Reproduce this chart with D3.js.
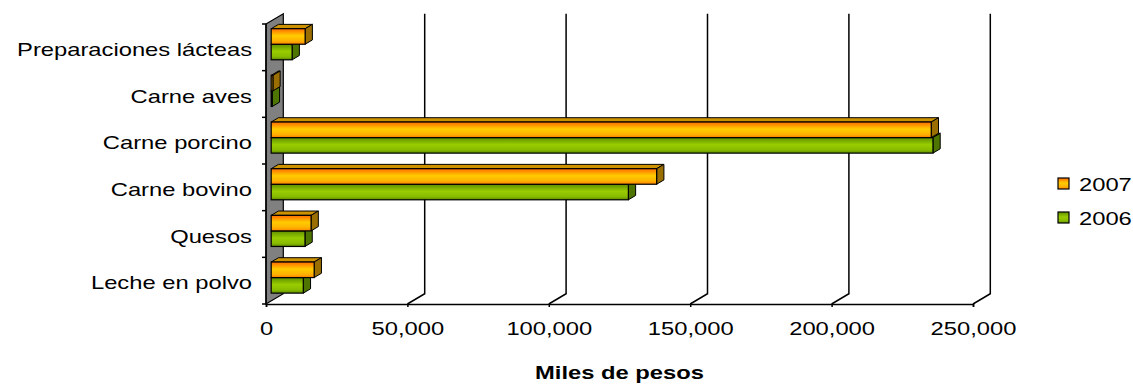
<!DOCTYPE html>
<html>
<head>
<meta charset="utf-8">
<script src="https://cdn.jsdelivr.net/npm/d3@7"></script>
<style>
  html, body { margin: 0; padding: 0; background: #fff; }
  svg { display: block; }
  text { font-family: "Liberation Sans", Arial, sans-serif; fill: #000; }
</style>
</head>
<body>
<svg id="chart" width="1133" height="384"></svg>
<script>
const categories = ["Preparaciones lácteas", "Carne aves", "Carne porcino", "Carne bovino", "Quesos", "Leche en polvo"];
const seriesNames = ["2007", "2006"];
const values2007 = [12000, 600, 233400, 136300, 14100, 15200];
const values2006 = [7400, 400, 234000, 126300, 11950, 11350];
const xTicks = [0, 50000, 100000, 150000, 200000, 250000];
const axisTitle = "Miles de pesos";

const svg = d3.select("#chart");
const defs = svg.append("defs");

const x = d3.scaleLinear().domain([0, 250000]).range([266, 973]);
const y = d3.scaleBand().domain(categories).range([24, 304]).paddingInner(0).paddingOuter(0);
const ys = d3.scaleBand().domain(seriesNames).range([0, y.bandwidth()]).paddingInner(0).paddingOuter(0.5);

const DX = 17.3, DY = -10.3;     // full depth offset
const Z0 = 0.3, Z1 = 0.72;        // bar depth range
const SX = 1.25;                  // horizontal text stretch
const P = (v, yy, z) => [x(v) + z * DX, yy + z * DY];

const styles = {
  "2007": { stops: [["0%", "#FF6A00"], ["45%", "#FFCC00"], ["80%", "#FFB000"], ["100%", "#FF7F00"]], top: "#CC9200", side: "#9A6E00" },
  "2006": { stops: [["0%", "#5F8F00"], ["45%", "#99CC00"], ["80%", "#88BB00"], ["100%", "#5A8800"]], top: "#7DA800", side: "#4E7500" }
};
seriesNames.forEach(s => {
  const g = defs.append("linearGradient").attr("id", "grad" + s)
    .attr("x1", 0).attr("y1", 0).attr("x2", 0).attr("y2", 1);
  styles[s].stops.forEach(([o, c]) => g.append("stop").attr("offset", o).attr("stop-color", c));
});

const poly = pts => "M" + pts.map(p => p.join(",")).join("L") + "Z";

// gridlines on back wall + floor
const grid = svg.append("g");
xTicks.filter(d => d > 0).forEach(t => {
  const [bx, by] = P(t, 304, 1);
  const [tx, ty] = P(t, 24, 1);
  grid.append("path")
    .attr("d", `M${tx},${ty}L${bx},${by}L${x(t)},304`)
    .attr("fill", "none").attr("stroke", "#000").attr("stroke-width", 1.5);
});

// side wall
svg.append("path")
  .attr("d", poly([P(0, 24, 0), P(0, 24, 1), P(0, 304, 1), P(0, 304, 0)]))
  .attr("fill", "#808080").attr("stroke", "#000").attr("stroke-width", 1.2);

// bars
const rows = categories.map((c, i) => ({ cat: c, "2007": values2007[i], "2006": values2006[i] }));
const barsG = svg.append("g");
rows.forEach(r => {
  ["2006", "2007"].forEach(s => {
    const v = r[s];
    const yt = y(r.cat) + ys(s);
    const yb = yt + ys.bandwidth();
    const g = barsG.append("g");
    // top face
    g.append("path")
      .attr("d", poly([P(0, yt, Z0), P(v, yt, Z0), P(v, yt, Z1), P(0, yt, Z1)]))
      .attr("fill", styles[s].top).attr("stroke", "#000").attr("stroke-width", 1).attr("stroke-linejoin", "round");
    // end face
    g.append("path")
      .attr("d", poly([P(v, yt, Z0), P(v, yt, Z1), P(v, yb, Z1), P(v, yb, Z0)]))
      .attr("fill", styles[s].side).attr("stroke", "#000").attr("stroke-width", 1).attr("stroke-linejoin", "round");
    // front face
    const [fx0, fy0] = P(0, yt, Z0);
    const [fx1, fy1] = P(v, yb, Z0);
    g.append("rect")
      .attr("x", fx0).attr("y", fy0).attr("width", fx1 - fx0).attr("height", fy1 - fy0)
      .attr("fill", `url(#grad${s})`).attr("stroke", "#000").attr("stroke-width", 1.2);
  });
});

// left axis line + ticks at band boundaries
const leftAx = svg.append("g");
leftAx.append("line").attr("x1", 266).attr("x2", 266).attr("y1", 24).attr("y2", 304)
  .attr("stroke", "#000").attr("stroke-width", 1.5);
categories.concat([null]).forEach((c, i) => {
  const yy = c === null ? y.range()[1] : y(c);
  leftAx.append("line").attr("x1", 262).attr("x2", 266).attr("y1", yy).attr("y2", yy)
    .attr("stroke", "#000").attr("stroke-width", 1.5);
});
leftAx.selectAll("text.cat").data(categories).join("text")
  .attr("class", "cat")
  .attr("transform", d => `translate(252,${y(d) + y.bandwidth() / 2}) scale(${SX},1)`)
  .attr("text-anchor", "end").attr("dy", "0.45em")
  .style("font-size", "19px")
  .text(d => d);

// bottom axis
const xAxis = d3.axisBottom(x).tickValues(xTicks).tickFormat(d3.format(",")).tickSize(3).tickPadding(15);
const axG = svg.append("g").attr("transform", "translate(0,304)").call(xAxis);
axG.select(".domain").attr("stroke", "#000").attr("stroke-width", 1.5);
axG.selectAll(".tick line").attr("stroke", "#000").attr("stroke-width", 1.5);
axG.selectAll(".tick text")
  .attr("transform", `scale(${SX},1)`)
  .style("font-size", "19px").style("font-family", "'Liberation Sans', Arial, sans-serif").attr("fill", "#000");

// axis title
svg.append("text")
  .attr("transform", `translate(${(x.range()[0] + x.range()[1]) / 2},379) scale(${SX},1)`)
  .attr("text-anchor", "middle")
  .style("font-size", "19px").style("font-weight", "bold")
  .text(axisTitle);

// legend
const legend = svg.append("g");
const legendY = d3.scalePoint().domain(seriesNames).range([183.5, 217.5]);
seriesNames.forEach(s => {
  const cy = legendY(s);
  legend.append("rect").attr("x", 1058).attr("y", cy - 5.5).attr("width", 11).attr("height", 11)
    .attr("fill", `url(#grad${s})`).attr("stroke", "#000").attr("stroke-width", 1.2);
  legend.append("text")
    .attr("transform", `translate(1079,${cy}) scale(${SX},1)`)
    .attr("dy", "0.37em").style("font-size", "19px")
    .text(s);
});
</script>
</body>
</html>
